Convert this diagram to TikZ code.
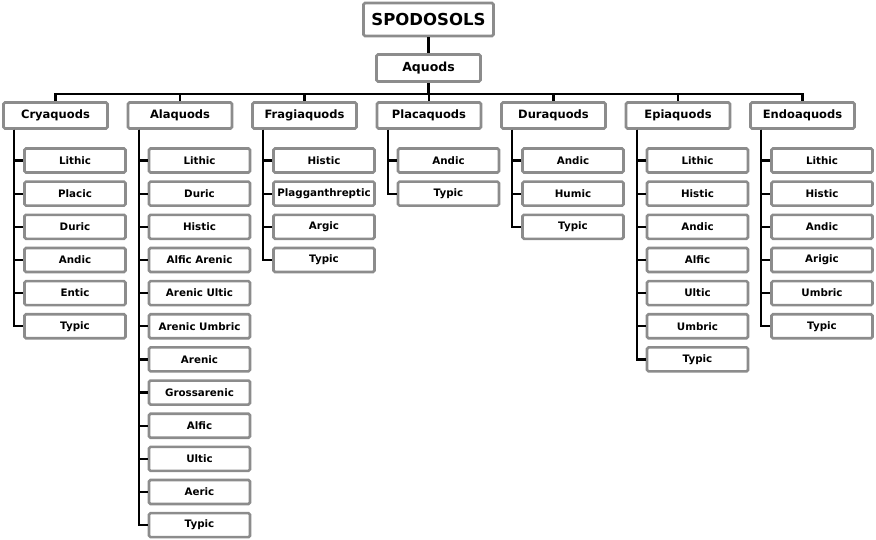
\documentclass[tikz,border=0pt]{standalone}
\usepackage{fontspec}
\setmainfont{DejaVu Sans}
\usetikzlibrary{positioning}

\begin{document}
\begin{tikzpicture}[
    x=1pt, y=-1pt,
    basebox/.style={rectangle, draw=gray!80!black!75, line width=2.6pt, fill=white, rounded corners=1.5pt, inner sep=0pt, font=\bfseries},
    topbox/.style={basebox, minimum width=130pt, minimum height=33pt, font=\fontsize{16.5}{18}\selectfont\bfseries},
    subbox/.style={basebox, minimum width=104pt, minimum height=26pt, font=\fontsize{11.5}{13}\selectfont\bfseries},
    leafbox/.style={basebox, minimum width=101pt, minimum height=24pt, font=\fontsize{10.3}{12}\selectfont\bfseries},
    link/.style={draw=black, line width=2.2pt},
]
\useasboundingbox (0,0) rectangle (876,539);

% Order and suborder
\node[topbox] (spodosols) at (428.5,19.5) {SPODOSOLS};
\node[subbox, minimum height=27pt, font=\fontsize{12.5}{14}\selectfont\bfseries] (aquods) at (428.5,68) {Aquods};
\draw[link] (spodosols) -- (aquods);
\draw[link] (aquods.south) -- ++(0,11) coordinate (bar);

% Great groups and their subgroups
\foreach \name/\txt/\leaves [count=\i] in {
    cry/Cryaquods/{Lithic,Placic,Duric,Andic,Entic,Typic},
    ala/Alaquods/{Lithic,Duric,Histic,Alfic Arenic,Arenic Ultic,Arenic Umbric,Arenic,Grossarenic,Alfic,Ultic,Aeric,Typic},
    fra/Fragiaquods/{Histic,Plagganthreptic,Argic,Typic},
    pla/Placaquods/{Andic,Typic},
    dur/Duraquods/{Andic,Humic,Typic},
    epi/Epiaquods/{Lithic,Histic,Andic,Alfic,Ultic,Umbric,Typic},
    endo/Endoaquods/{Lithic,Histic,Andic,Arigic,Umbric,Typic}} {
  \node[subbox] (\name) at ({55.5+124.5*(\i-1)},115.5) {\txt};
  \draw[link] (bar) -| (\name.north);
  \foreach \leaf [count=\j] in \leaves {
    \node[leafbox] (\name-\j) at ({55.5+124.5*(\i-1)+19.5},{160.5+33.15*(\j-1)}) {\leaf};
    \draw[link] ([xshift=12pt]\name.south west) |- (\name-\j.west);
  }
}

\end{tikzpicture}
\end{document}
